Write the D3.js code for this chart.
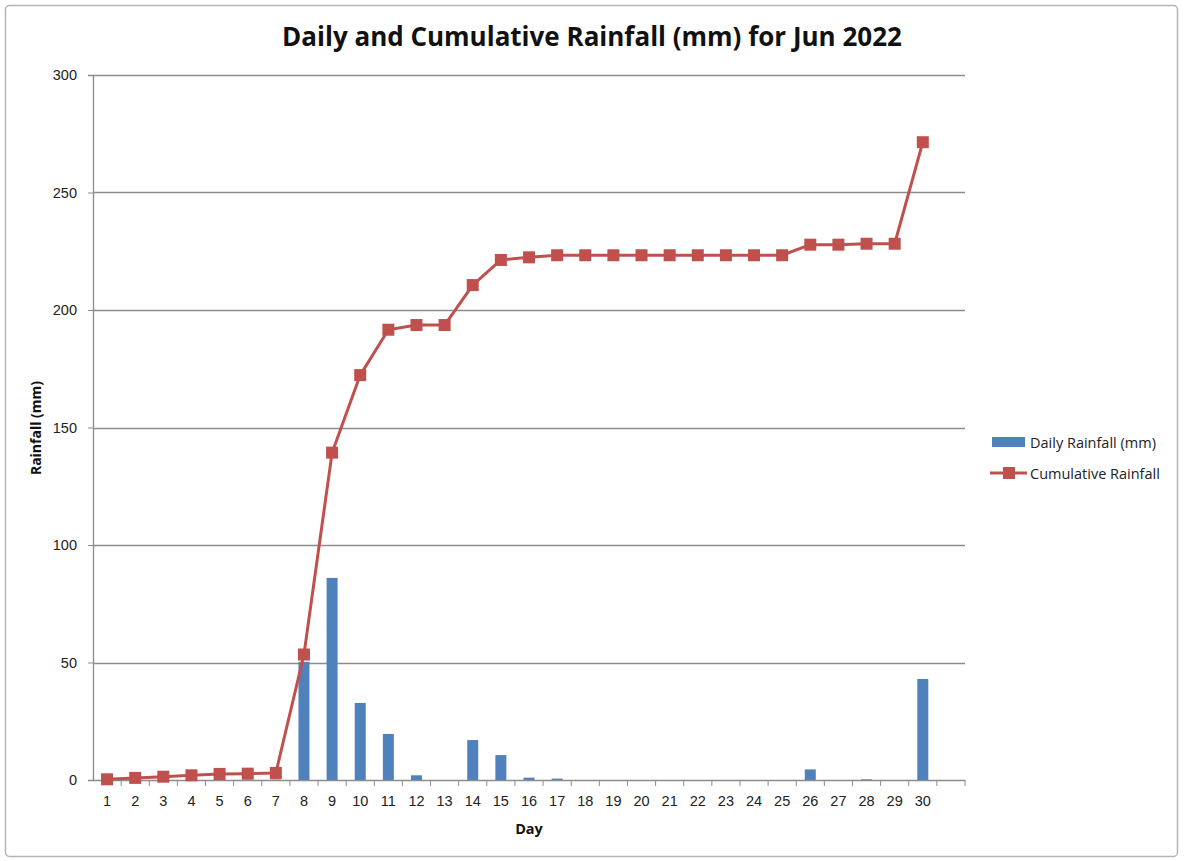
<!DOCTYPE html>
<html><head><meta charset="utf-8">
<script src="https://cdn.jsdelivr.net/npm/d3@7"></script>
<style>body{margin:0;background:#fff;} svg{display:block;font-family:"Open Sans",sans-serif;}</style>
</head><body>
<svg id="c" width="1184" height="861"></svg>
<script>
const days = d3.range(1, 31).map(String);
const dailyRain = [0.3,0.6,0.5,0.6,0.6,0.1,0.2,50.3,86.0,32.8,19.6,2.0,0,17.0,10.6,1.0,0.6,0,0,0,0,0,0,0,0,4.5,0,0.3,0,43.0];
const cumulativeRain = [0.3,0.9,1.4,2.0,2.6,2.7,3.0,53.4,139.3,172.3,191.6,193.6,193.6,210.6,221.3,222.4,223.3,223.3,223.3,223.3,223.3,223.3,223.3,223.3,223.3,227.8,227.8,228.2,228.2,271.4];
const yTicks = [0,50,100,150,200,250,300];
const title = "Daily and Cumulative Rainfall (mm) for Jun 2022";
const seriesNames = ["Daily Rainfall (mm)", "Cumulative Rainfall"];

const svg = d3.select("#c");
const blue = "#4F81BD", red = "#C0504D";
svg.append("rect").attr("x",5.5).attr("y",5.5).attr("width",1172).attr("height",851).attr("rx",4)
  .attr("fill","#fff").attr("stroke","#b5b5b5").attr("stroke-width",1.5);

const L = 93, R = 965, T = 75, B = 780;
const x = d3.scaleBand().domain(days.concat(["__"])).range([L, R]);
const y = d3.scaleLinear().domain([0,300]).range([B, T]);

// grid
svg.append("g").selectAll("line").data(yTicks.filter(d=>d>0)).join("line")
  .attr("x1",L).attr("x2",R).attr("y1",d=>Math.round(y(d))+0.5).attr("y2",d=>Math.round(y(d))+0.5)
  .attr("stroke","#8c8c8c").attr("stroke-width",1.3);

// y axis
const yAx = svg.append("g").attr("transform",`translate(${L},0)`)
  .call(d3.axisLeft(y).tickValues(yTicks).tickSize(5).tickPadding(11));
yAx.select(".domain").attr("stroke","#8c8c8c").attr("stroke-width",1.3);
yAx.selectAll(".tick line").attr("stroke","#8c8c8c");
yAx.selectAll("text").attr("font-size",14.5).attr("fill","#222");

// bars
svg.append("g").selectAll("rect").data(days).join("rect")
  .attr("x",(d)=>x(d)+x.bandwidth()/2-5.5).attr("width",11)
  .attr("y",(d,i)=>y(dailyRain[i])).attr("height",(d,i)=>B-y(dailyRain[i]))
  .attr("fill",blue);

// x axis
const xAx = svg.append("g").attr("transform",`translate(0,${B})`)
  .call(d3.axisBottom(x).tickValues(days).tickSize(0).tickPadding(16));
xAx.select(".domain").remove();
xAx.selectAll("text").attr("font-size",14.5).attr("fill","#222");
svg.append("line").attr("x1",L).attr("x2",R).attr("y1",B+0.5).attr("y2",B+0.5).attr("stroke","#8c8c8c").attr("stroke-width",1.3);
svg.append("g").selectAll("line").data(days.concat(["__"])).join("line")
  .attr("x1",d=>x(d)+x.bandwidth()).attr("x2",d=>x(d)+x.bandwidth())
  .attr("y1",B).attr("y2",B+6).attr("stroke","#8c8c8c");

// line
const cx = (d)=>x(d)+x.bandwidth()/2;
svg.append("path").datum(days).attr("fill","none").attr("stroke",red).attr("stroke-width",3)
  .attr("stroke-linejoin","round")
  .attr("d", d3.line().x(d=>cx(d)).y((d,i)=>y(cumulativeRain[i])));
svg.append("g").selectAll("rect").data(days).join("rect")
  .attr("x",d=>cx(d)-6).attr("y",(d,i)=>y(cumulativeRain[i])-6).attr("width",12).attr("height",12)
  .attr("fill",red);

// titles
svg.append("text").attr("x",592).attr("y",46).attr("text-anchor","middle")
  .attr("font-size",26).attr("font-weight","bold").attr("fill","#111").text(title);
svg.append("text").attr("x",529).attr("y",834).attr("text-anchor","middle")
  .attr("font-size",14.5).attr("font-weight","bold").attr("fill","#111").text("Day");
svg.append("text").attr("transform","translate(41,428) rotate(-90)").attr("text-anchor","middle")
  .attr("font-size",14).attr("font-weight","bold").attr("fill","#111").text("Rainfall (mm)");

// legend
const lg = svg.append("g");
lg.append("rect").attr("x",992).attr("y",437).attr("width",33).attr("height",10).attr("fill",blue);
lg.append("text").attr("x",1030).attr("y",448).attr("font-size",14.5).attr("fill","#222").text(seriesNames[0]);
lg.append("line").attr("x1",990).attr("x2",1027).attr("y1",473).attr("y2",473).attr("stroke",red).attr("stroke-width",3);
lg.append("rect").attr("x",1003).attr("y",467).attr("width",12).attr("height",12).attr("fill",red);
lg.append("text").attr("x",1030).attr("y",479).attr("font-size",14.5).attr("fill","#222").text(seriesNames[1]);
</script>
</body></html>
